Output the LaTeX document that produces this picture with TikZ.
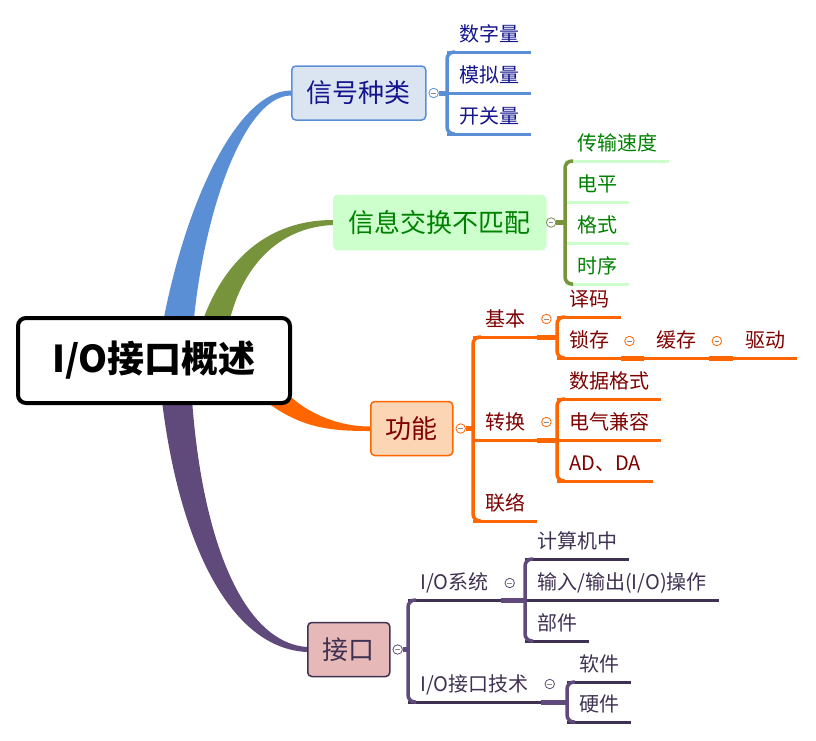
\documentclass[tikz,border=0pt]{standalone}
\usepackage{fontspec}
\setmainfont{Noto Sans CJK SC}
\usetikzlibrary{backgrounds}
\definecolor{sigblue}{HTML}{5B8FD5}
\definecolor{sigfill}{HTML}{DBE5F1}
\definecolor{sigtext}{HTML}{14148C}
\definecolor{misgreen}{HTML}{77933C}
\definecolor{misfill}{HTML}{CCFFCC}
\definecolor{mistext}{HTML}{008000}
\definecolor{funcorange}{HTML}{FF6600}
\definecolor{funcfill}{HTML}{FCD5B4}
\definecolor{functext}{HTML}{7F0000}
\definecolor{ifpurple}{HTML}{604A7B}
\definecolor{iffill}{HTML}{E6B9B8}
\definecolor{iftext}{HTML}{3F3151}
\tikzset{
  mainbox/.style={rounded corners=4pt, line width=1.5pt, inner xsep=15pt, minimum height=54pt,
    anchor=west, font=\fontsize{26}{26}\selectfont},
  leaf/.style={anchor=south west, inner xsep=12pt, inner ysep=10pt, text depth=0pt,
    font=\fontsize{20}{20}\selectfont},
  uline/.style={line width=3pt},
  brace/.style={line width=3.5pt, rounded corners=7pt},
  stub/.style={line width=5pt},
  fold/.style={circle, draw=#1, fill=white, minimum size=9.5pt, inner sep=0pt, line width=0.8pt,
    path picture={\draw[black!45, line width=0.7pt]
      ([xshift=-2.3pt]path picture bounding box.center) -- ([xshift=2.3pt]path picture bounding box.center);}}
}
\begin{document}
\begin{tikzpicture}[x=1pt,y=-1pt]
    \useasboundingbox (0,0) rectangle (816,740);
    \node[draw, line width=4pt, rounded corners=8pt, fill=white, minimum width=272pt, minimum height=85pt,
      font=\bfseries\fontsize{37}{37}\selectfont] (root) at (154,360.5) {I/O接口概述};
    \node[mainbox, draw=sigblue, fill=sigfill, text=sigtext] (sig) at (291,93) {信号种类};
    \node[mainbox, draw=misfill, fill=misfill, text=mistext] (mis) at (333,222.5) {信息交换不匹配};
    \node[mainbox, draw=funcorange, fill=funcfill, text=functext] (func) at (370,428.5) {功能};
    \node[mainbox, draw=iftext, fill=iffill, text=iftext] (intf) at (307,649.5) {接口};
    \begin{scope}[on background layer]
        \fill[sigblue] ([xshift=3pt]root.center) .. controls +(17,-130) and +(-60,0) .. ([yshift=2.5pt]sig.west)
          -- ([yshift=-2.5pt]sig.west) .. controls +(-50,0) and +(5,-130) .. ([xshift=37pt]root.center) -- cycle;
        \fill[misgreen] ([xshift=38pt]root.center) .. controls +(15,-80) and +(-80,0) .. ([yshift=2.5pt]mis.west)
          -- ([yshift=-2.5pt]mis.west) .. controls +(-70,3) and +(3,-70) .. ([xshift=70pt]root.center) -- cycle;
        \fill[funcorange] ([xshift=108pt,yshift=-38pt]root.center) .. controls +(38,30) and +(-40,0) .. ([yshift=-2.5pt]func.west)
          -- ([yshift=2pt]func.west) .. controls +(-35,0) and +(20,25) .. ([xshift=126pt,yshift=-25pt]root.center) -- cycle;
        \fill[ifpurple] ([xshift=4pt]root.center) .. controls +(12,160) and +(-85,-4) .. ([yshift=-2.5pt]intf.west)
          -- ([yshift=2.5pt]intf.west) .. controls +(-70,-5) and +(5,160) .. ([xshift=36pt]root.center) -- cycle;
    \end{scope}
    \node[fold=sigblue, anchor=west] (sigf) at ([xshift=2pt]sig.east) {};
    \node[fold=misgreen!60!gray, anchor=west] (misf) at ([xshift=-0.5pt]mis.east) {};
    \node[fold=funcorange, anchor=west] (funcf) at ([xshift=2pt]func.east) {};
    \node[fold=ifpurple, anchor=west] (intff) at ([xshift=2pt]intf.east) {};

    \node[leaf, text=sigtext] (szl) at (447,52) {数字量};
    \node[leaf, text=sigtext] (mnl) at (447,93) {模拟量};
    \node[leaf, text=sigtext] (kgl) at (447,134) {开关量};
    \foreach \n in {szl,mnl,kgl} \draw[uline, sigblue] (\n.south west) -- (\n.south east);
    \draw[brace, sigblue] ([xshift=8pt]szl.south west) -- (szl.south west) -- (kgl.south west) -- ([xshift=8pt]kgl.south west);
    \draw[stub, sigblue] (sigf.east) -- (sigf.east -| mnl.south west);

    \node[leaf, text=mistext] (cssd) at (565,161) {传输速度};
    \node[leaf, text=mistext] (dp) at (565,202) {电平};
    \node[leaf, text=mistext] (gs) at (565,243) {格式};
    \node[leaf, text=mistext] (sx) at (565,284) {时序};
    \foreach \n in {cssd,dp,gs,sx} \draw[uline, misfill] (\n.south west) -- (\n.south east);
    \draw[brace, misgreen] ([xshift=8pt]cssd.south west) -- (cssd.south west) -- (sx.south west) -- ([xshift=8pt]sx.south west);
    \draw[stub, misgreen] (misf.east) -- (misf.east -| dp.south west);

    \node[leaf, text=functext] (jb) at (473,337) {基本};
    \node[leaf, text=functext] (zh) at (473,440) {转换};
    \node[leaf, text=functext] (ll) at (473,521) {联络};
    \foreach \n in {jb,zh,ll} \draw[uline, funcorange] (\n.south west) -- (\n.south east);
    \draw[brace, funcorange] ([xshift=8pt]jb.south west) -- (jb.south west) -- (ll.south west) -- ([xshift=8pt]ll.south west);
    \draw[stub, funcorange] (funcf.east) -- (funcf.east -| jb.south west);
    \node[fold=funcorange] (jbf) at ([xshift=9pt,yshift=18pt]jb.south east) {};
    \node[fold=funcorange] (zhf) at ([xshift=9pt,yshift=18pt]zh.south east) {};

    \node[leaf, text=functext] (ym) at (557,317) {译码};
    \node[leaf, text=functext] (sc) at (557,358) {锁存};
    \node[leaf, text=functext] (hc) at ([xshift=23pt]sc.south east) {缓存};
    \node[leaf, text=functext] (qd) at ([xshift=24pt]hc.south east) {驱动};
    \foreach \n in {ym,sc,hc,qd} \draw[uline, funcorange] (\n.south west) -- (\n.south east);
    \draw[brace, funcorange] ([xshift=8pt]ym.south west) -- (ym.south west) -- (sc.south west) -- ([xshift=8pt]sc.south west);
    \draw[stub, funcorange] (jb.south east) -- (jb.south east -| ym.south west);
    \node[fold=funcorange] (scf) at ([xshift=8pt,yshift=17pt]sc.south east) {};
    \node[fold=funcorange] (hcf) at ([xshift=8pt,yshift=17pt]hc.south east) {};
    \draw[stub, funcorange] (sc.south east) -- (hc.south west);
    \draw[stub, funcorange] (hc.south east) -- (qd.south west);

    \node[leaf, text=functext] (sjgs) at (557,399) {数据格式};
    \node[leaf, text=functext] (dqjr) at (557,440) {电气兼容};
    \node[leaf, text=functext] (adda) at (557,481) {AD、DA};
    \foreach \n in {sjgs,dqjr,adda} \draw[uline, funcorange] (\n.south west) -- (\n.south east);
    \draw[brace, funcorange] ([xshift=8pt]sjgs.south west) -- (sjgs.south west) -- (adda.south west) -- ([xshift=8pt]adda.south west);
    \draw[stub, funcorange] (zh.south east) -- (dqjr.south west);

    \node[leaf, text=iftext] (iosys) at (408,600) {I/O系统};
    \node[leaf, text=iftext] (iotech) at (408,702) {I/O接口技术};
    \foreach \n in {iosys,iotech} \draw[uline, iftext] (\n.south west) -- (\n.south east);
    \draw[brace, ifpurple] ([xshift=8pt]iosys.south west) -- (iosys.south west) -- (iotech.south west) -- ([xshift=8pt]iotech.south west);
    \draw[stub, ifpurple] (intff.east) -- (intff.east -| iosys.south west);
    \node[fold=ifpurple] (iosysf) at ([xshift=9pt,yshift=17pt]iosys.south east) {};
    \node[fold=ifpurple] (iotechf) at ([xshift=9pt,yshift=18pt]iotech.south east) {};

    \node[leaf, text=iftext] (jsjz) at (525,559) {计算机中};
    \node[leaf, text=iftext] (srsc) at (525,600) {输入/输出(I/O)操作};
    \node[leaf, text=iftext] (bj) at (525,641) {部件};
    \foreach \n in {jsjz,srsc,bj} \draw[uline, iftext] (\n.south west) -- (\n.south east);
    \draw[brace, ifpurple] ([xshift=8pt]jsjz.south west) -- (jsjz.south west) -- (bj.south west) -- ([xshift=8pt]bj.south west);
    \draw[stub, ifpurple] (iosys.south east) -- (srsc.south west);

    \node[leaf, text=iftext] (rj) at (567,682) {软件};
    \node[leaf, text=iftext] (yj) at (567,722) {硬件};
    \foreach \n in {rj,yj} \draw[uline, iftext] (\n.south west) -- (\n.south east);
    \draw[brace, ifpurple] ([xshift=8pt]rj.south west) -- (rj.south west) -- (yj.south west) -- ([xshift=8pt]yj.south west);
    \draw[stub, ifpurple] (iotech.south east) -- (iotech.south east -| rj.south west);
\end{tikzpicture}
\end{document}
